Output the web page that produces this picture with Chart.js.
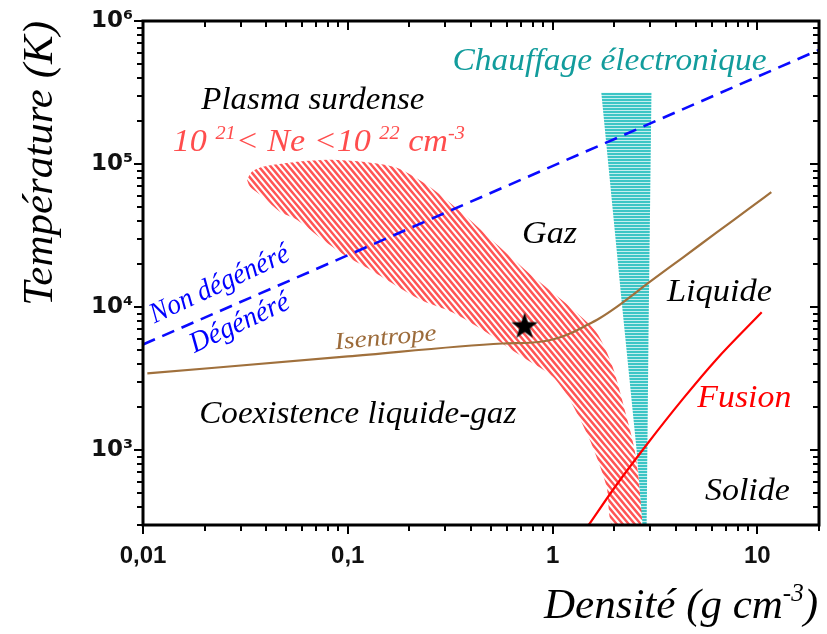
<!DOCTYPE html>
<html><head><meta charset="utf-8">
<script src="https://cdn.jsdelivr.net/npm/chart.js@4"></script>
<style>html,body{margin:0;padding:0;background:#fff;}canvas{display:block;}</style>
</head><body>
<canvas id="c" width="827" height="634"></canvas>
<script>
// ---------------- data ----------------
const xTickValues = [0.01, 0.1, 1, 10];
const xTickLabels = ['0,01', '0,1', '1', '10'];
const yTickValues = [1e3, 1e4, 1e5, 1e6];
const yTickLabels = ['10³', '10⁴', '10⁵', '10⁶'];

// degenerate / non-degenerate boundary
const degenX = [0.01, 20];
const degenT = [5480, 628000];

// isentrope
const isentropeX = [0.0105, 0.1, 0.57, 0.80, 1.0, 1.25, 1.43, 1.69, 2.05, 2.97, 4.31, 6.31, 9.14, 11.7];
const isentropeT = [3440, 4520, 5570, 5660, 5940, 6650, 7330, 8325, 10000, 14940, 22120, 33160, 48980, 63650];

// melting curve
const fusionX = [1.50, 2.05, 2.88, 4.31, 6.31, 10.5];
const fusionT = [300, 571, 1092, 2265, 4310, 9200];

// overdense plasma region (closed outline)
const plasmaX = [0.0322, 0.0340, 0.0385, 0.0564, 0.0818, 0.1184, 0.1734, 0.2512, 0.3936, 0.5704, 0.8356, 1.210, 1.639, 1.962, 2.296, 2.512, 2.657, 2.69,
                 1.962, 1.834, 1.515, 1.210, 1.0, 0.7466, 0.5965, 0.4764, 0.3253, 0.2245, 0.1280, 0.0989, 0.0755, 0.0564, 0.0466, 0.0385, 0.0333, 0.0322];
const plasmaT = [77700, 88400, 95800, 103800, 107200, 103800, 94200, 69400, 40870, 25230, 15580, 10100, 6650, 3850, 1725, 1015, 560, 300,
                 300, 560, 1191, 2265, 3280, 4310, 5310, 6650, 9170, 11300, 18300, 22550, 29620, 40870, 46460, 59140, 69400, 77700];

// electronic heating region (closed outline)
const heatingX = [1.73, 3.04, 2.94, 2.88, 2.75, 2.57, 2.17, 1.73];
const heatingT = [315000, 315000, 6130, 300, 300, 1014, 11300, 315000];

// marked point
const starX = [0.73];
const starT = [7320];

// ---------------- helpers ----------------
const zip = (xs, ys) => xs.map((x, i) => ({x: x, y: ys[i]}));
const canvas = document.getElementById('c');
const ctx0 = canvas.getContext('2d');

// diagonal "\" hatch, seamless tile: horizontal period 6, vertical period 7.2
function diagHatch(color, lw) {
  const W = 6, H = 36, vp = 7.2, k = 7.2 / 6;
  const c = document.createElement('canvas');
  c.width = W; c.height = H;
  const g = c.getContext('2d');
  g.strokeStyle = color; g.lineWidth = lw; g.lineCap = 'butt';
  g.beginPath();
  for (let i = -10; i <= 10; i++) {
    const c0 = i * vp;
    g.moveTo(-3, k * -3 + c0); g.lineTo(W + 3, k * (W + 3) + c0);
  }
  g.stroke();
  return ctx0.createPattern(c, 'repeat');
}
function horizHatch(color, gapColor) {
  const c = document.createElement('canvas');
  c.width = 8; c.height = 3;
  const g = c.getContext('2d');
  g.fillStyle = gapColor; g.fillRect(0, 0, 8, 3);
  g.fillStyle = color; g.fillRect(0, 0, 8, 2);
  return ctx0.createPattern(c, 'repeat');
}
const redHatch = diagHatch('#ff5555', 2.5);
const cyanHatch = horizHatch('#3cc5c5', '#c4eeee');

const starImg = document.createElement('canvas');
starImg.width = 30; starImg.height = 30;
(function () {
  const g = starImg.getContext('2d');
  g.beginPath();
  for (let i = 0; i < 10; i++) {
    const r = i % 2 ? 5.6 : 14;
    const a = -Math.PI / 2 + i * Math.PI / 5;
    g.lineTo(15 + r * Math.cos(a), 15 + r * Math.sin(a));
  }
  g.closePath(); g.fillStyle = '#000'; g.fill();
})();

function minorTicks(min, max) {
  const out = [];
  for (let d = Math.pow(10, Math.floor(Math.log10(min))); d <= max; d *= 10) {
    for (let m = 1; m <= 9; m++) {
      const v = parseFloat((m * d).toPrecision(6));
      if (v >= min * 0.999 && v <= max * 1.001) out.push(v);
    }
  }
  return out;
}
const xAllTicks = minorTicks(0.01, 20);
const yAllTicks = minorTicks(300, 1e6);
const isMajor = v => Math.abs(Math.log10(v) - Math.round(Math.log10(v))) < 1e-6;

// text annotations (positions in data coordinates)
const SERIF = '"Liberation Serif", "Times New Roman", serif';
const notes = [
  {t: 'Plasma surdense', x: 0.0675, y: 276500, size: 32, w: 223, color: '#000'},
  {t: 'Chauffage électronique', x: 1.897, y: 517500, size: 32, w: 314, color: '#129c9c'},
  {t: 'Gaz', x: 0.967, y: 32100, size: 32, w: 55, color: '#000'},
  {t: 'Liquide', x: 6.53, y: 12650, size: 32, w: 105, color: '#000'},
  {t: 'Fusion', x: 8.64, y: 2302, size: 32, w: 94, color: '#ff0000'},
  {t: 'Solide', x: 8.94, y: 517, size: 32, w: 85, color: '#000'},
  {t: 'Coexistence liquide-gaz', x: 0.1119, y: 1780, size: 31, w: 317, color: '#000'},
  {t: 'Non dégénéré', x: 0.0237, y: 14380, size: 29, w: 151, color: '#0000ff', rot: -25},
  {t: 'Dégénéré', x: 0.0297, y: 7685, size: 29, w: 107, color: '#0000ff', rot: -25},
  {t: 'Isentrope', x: 0.1533, y: 6040, size: 24, w: 102, color: '#9c6b3a', rot: -5}
];
const neNote = {x: 0.0722, y: 143100, size: 32, sup: 19, w: 292, color: '#ff4d4d',
  parts: [['10 ', 0], ['21', 1], ['< Ne <10 ', 0], ['22', 1], [' cm', 0], ['-3', 1]]};
const xTitleParts = [['Densité (g cm', 0], ['-3', 1], [')', 0]];

function drawParts(ctx, parts, size, sup, startX, baseY) {
  const fMain = 'italic ' + size + 'px ' + SERIF, fSup = 'italic ' + sup + 'px ' + SERIF;
  let cx = startX;
  parts.forEach(p => {
    ctx.font = p[1] ? fSup : fMain;
    ctx.fillText(p[0], cx, p[1] ? baseY - 0.4 * size : baseY);
    cx += ctx.measureText(p[0]).width;
  });
}
function partsWidth(ctx, parts, size, sup) {
  let total = 0;
  parts.forEach(p => { ctx.font = 'italic ' + (p[1] ? sup : size) + 'px ' + SERIF; total += ctx.measureText(p[0]).width; });
  return total;
}

const overlay = {
  id: 'overlay',
  afterDatasetsDraw(chart) {
    const ctx = chart.ctx, xs = chart.scales.x, ys = chart.scales.y;
    ctx.save();
    notes.forEach(n => {
      const px = xs.getPixelForValue(n.x), py = ys.getPixelForValue(n.y);
      ctx.save();
      ctx.font = 'italic ' + n.size + 'px ' + SERIF;
      const mw = ctx.measureText(n.t).width;
      ctx.translate(px, py);
      if (n.rot) ctx.rotate(n.rot * Math.PI / 180);
      ctx.scale(n.w / mw, 1);
      ctx.fillStyle = n.color;
      ctx.textAlign = 'center'; ctx.textBaseline = 'middle';
      ctx.fillText(n.t, 0, 0);
      ctx.restore();
    });
    const n = neNote;
    const total = partsWidth(ctx, n.parts, n.size, n.sup);
    ctx.save();
    ctx.translate(xs.getPixelForValue(n.x), ys.getPixelForValue(n.y) + 0.3 * n.size);
    ctx.scale(n.w / total, 1);
    ctx.fillStyle = n.color; ctx.textBaseline = 'alphabetic'; ctx.textAlign = 'left';
    drawParts(ctx, n.parts, n.size, n.sup, -total / 2, 0);
    ctx.restore();
    ctx.restore();
  },
  afterDraw(chart) {
    const ctx = chart.ctx, a = chart.chartArea, xs = chart.scales.x, ys = chart.scales.y;
    ctx.save();
    ctx.strokeStyle = '#000';
    ctx.lineWidth = 2;
    ctx.beginPath();
    xAllTicks.forEach(v => {
      const p = Math.round(xs.getPixelForValue(v));
      const L = isMajor(v) ? 9 : 6;
      ctx.moveTo(p, a.bottom); ctx.lineTo(p, a.bottom + L);
      ctx.moveTo(p, a.top); ctx.lineTo(p, a.top + L);
    });
    yAllTicks.forEach(v => {
      const p = Math.round(ys.getPixelForValue(v));
      const L = isMajor(v) ? 9 : 6;
      ctx.moveTo(a.left - L, p); ctx.lineTo(a.left, p);
      ctx.moveTo(a.right - L, p); ctx.lineTo(a.right, p);
    });
    ctx.stroke();
    ctx.lineWidth = 3;
    ctx.strokeRect(a.left, a.top, a.right - a.left, a.bottom - a.top);
    // x axis title with superscript
    ctx.fillStyle = '#000'; ctx.textBaseline = 'alphabetic'; ctx.textAlign = 'left';
    const w = partsWidth(ctx, xTitleParts, 43, 25);
    drawParts(ctx, xTitleParts, 43, 25, a.right - 1 - w, a.bottom + 93);
    ctx.restore();
  }
};

new Chart(canvas, {
  type: 'scatter',
  data: {
    datasets: [
      {label: 'point', data: zip(starX, starT), pointStyle: starImg, pointRadius: 14, showLine: false, order: 0},
      {label: 'degen', data: zip(degenX, degenT), showLine: true, borderColor: '#0a0aff', borderWidth: 2.6,
       borderDash: [13, 8], pointRadius: 0, fill: false, order: 1},
      {label: 'fusion', data: zip(fusionX, fusionT), showLine: true, borderColor: '#ff0000', borderWidth: 2.2,
       pointRadius: 0, cubicInterpolationMode: 'monotone', fill: false, order: 2},
      {label: 'isentrope', data: zip(isentropeX, isentropeT), showLine: true, borderColor: '#a0703c', borderWidth: 2.2,
       pointRadius: 0, cubicInterpolationMode: 'monotone', fill: false, order: 3},
      {label: 'heating', data: zip(heatingX, heatingT), showLine: true, borderWidth: 0, borderColor: 'rgba(0,0,0,0)',
       backgroundColor: cyanHatch, pointRadius: 0, fill: 'shape', tension: 0, order: 4},
      {label: 'plasma', data: zip(plasmaX, plasmaT), showLine: true, borderWidth: 0, borderColor: 'rgba(0,0,0,0)',
       backgroundColor: redHatch, pointRadius: 0, fill: 'shape', tension: 0.25, order: 5}
    ]
  },
  options: {
    responsive: false,
    animation: false,
    events: [],
    layout: {autoPadding: false, padding: {left: 0, right: 8, top: 21, bottom: 0}},
    plugins: {legend: {display: false}, tooltip: {enabled: false}},
    scales: {
      x: {
        type: 'logarithmic', position: 'bottom', min: 0.01, max: 20,
        grid: {display: false, drawTicks: false}, border: {display: false},
        afterBuildTicks: s => { s.ticks = xAllTicks.map(v => ({value: v, major: isMajor(v)})); },
        afterFit: s => { s.height = 109; s.paddingLeft = 0; s.paddingRight = 0; },
        ticks: {
          autoSkip: false, maxRotation: 0, minRotation: 0, padding: 17, color: '#111',
          font: {family: '"Liberation Sans", Arial, sans-serif', weight: 'bold', size: 24},
          callback: v => { const i = xTickValues.findIndex(t => Math.abs(t - v) / t < 1e-6); return i >= 0 ? xTickLabels[i] : ''; }
        },
        title: {display: false, text: 'Densité (g cm-3)'}
      },
      y: {
        type: 'logarithmic', position: 'left', min: 300, max: 1e6,
        grid: {display: false, drawTicks: false}, border: {display: false},
        afterBuildTicks: s => { s.ticks = yAllTicks.map(v => ({value: v, major: isMajor(v)})); },
        afterFit: s => { s.width = 143; s.paddingTop = 0; s.paddingBottom = 0; },
        ticks: {
          autoSkip: false, padding: 10, color: '#111',
          font: {family: '"DejaVu Sans", sans-serif', weight: 'bold', size: 23},
          callback: v => { const i = yTickValues.findIndex(t => Math.abs(t - v) / t < 1e-6); return i >= 0 ? yTickLabels[i] : ''; }
        },
        title: {display: true, text: 'Température (K)', align: 'end', color: '#000',
          font: {family: SERIF, style: 'italic', size: 43}, padding: {top: 15, bottom: 0}}
      }
    }
  },
  plugins: [overlay]
});
</script>
</body></html>
